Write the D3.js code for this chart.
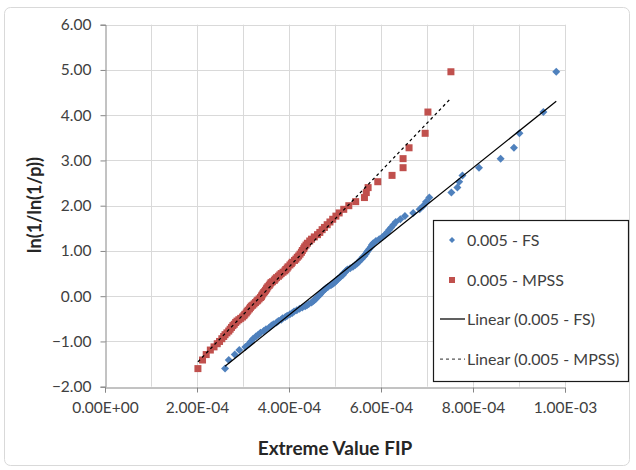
<!DOCTYPE html>
<html>
<head>
<meta charset="utf-8">
<script src="https://cdn.jsdelivr.net/npm/d3@7"></script>
<style>
  html, body { margin: 0; padding: 0; background: #fff; }
  svg { display: block; font-family: Lato, "Open Sans", sans-serif; }
</style>
</head>
<body>
<svg id="chart" width="636" height="470"></svg>
<script>
// ---- data (x values in units of 1E-04) ----
const yValues = [
  -1.60, -1.41, -1.29, -1.19, -1.12, -1.05, -1.00, -0.94, -0.89, -0.85,
  -0.81, -0.77, -0.73, -0.69, -0.65, -0.62, -0.58, -0.55, -0.52, -0.49,
  -0.46, -0.43, -0.40, -0.37, -0.34, -0.31, -0.28, -0.25, -0.22, -0.20,
  -0.17, -0.14, -0.11, -0.09, -0.06, -0.03, -0.01, 0.02, 0.05, 0.08,
  0.10, 0.13, 0.16, 0.18, 0.21, 0.24, 0.27, 0.30, 0.32, 0.35,
  0.38, 0.41, 0.44, 0.47, 0.50, 0.53, 0.56, 0.59, 0.62, 0.65,
  0.69, 0.72, 0.75, 0.79, 0.82, 0.86, 0.89, 0.93, 0.97, 1.01,
  1.05, 1.09, 1.13, 1.17, 1.22, 1.26, 1.31, 1.36, 1.41, 1.47,
  1.52, 1.58, 1.64, 1.70, 1.77, 1.84, 1.92, 2.00, 2.09, 2.18,
  2.29, 2.40, 2.53, 2.67, 2.84, 3.04, 3.28, 3.60, 4.07, 4.96
];
const fsE4 = [
  2.61, 2.69, 2.82, 2.92, 3.05, 3.13, 3.17, 3.22, 3.28, 3.33,
  3.38, 3.45, 3.50, 3.57, 3.62, 3.66, 3.73, 3.77, 3.83, 3.86,
  3.92, 3.96, 4.02, 4.07, 4.11, 4.17, 4.23, 4.29, 4.35, 4.39,
  4.43, 4.49, 4.52, 4.55, 4.58, 4.60, 4.62, 4.66, 4.68, 4.71,
  4.72, 4.75, 4.79, 4.81, 4.85, 4.91, 4.95, 4.98, 5.01, 5.04,
  5.06, 5.10, 5.13, 5.17, 5.18, 5.22, 5.24, 5.27, 5.33, 5.39,
  5.44, 5.48, 5.51, 5.54, 5.58, 5.60, 5.64, 5.67, 5.69, 5.72,
  5.75, 5.78, 5.80, 5.83, 5.89, 5.96, 6.03, 6.09, 6.13, 6.18,
  6.22, 6.27, 6.32, 6.42, 6.52, 6.70, 6.84, 6.92, 6.98, 7.05,
  7.53, 7.66, 7.70, 7.77, 8.13, 8.60, 8.89, 9.01, 9.53, 9.81
];
const mpssE4 = [
  2.02, 2.12, 2.20, 2.29, 2.37, 2.44, 2.49, 2.54, 2.58, 2.61,
  2.65, 2.69, 2.72, 2.75, 2.78, 2.81, 2.84, 2.87, 2.91, 2.95,
  2.99, 3.02, 3.04, 3.07, 3.09, 3.11, 3.14, 3.16, 3.18, 3.21,
  3.24, 3.27, 3.30, 3.32, 3.35, 3.38, 3.40, 3.41, 3.43, 3.45,
  3.47, 3.49, 3.51, 3.52, 3.54, 3.57, 3.59, 3.61, 3.64, 3.68,
  3.70, 3.73, 3.77, 3.80, 3.83, 3.87, 3.91, 3.93, 3.96, 3.98,
  4.02, 4.05, 4.07, 4.12, 4.15, 4.18, 4.21, 4.24, 4.27, 4.29,
  4.32, 4.34, 4.37, 4.40, 4.45, 4.49, 4.55, 4.62, 4.67, 4.72,
  4.77, 4.83, 4.89, 4.95, 5.02, 5.09, 5.19, 5.30, 5.45, 5.64,
  5.68, 5.72, 5.93, 6.24, 6.48, 6.48, 6.61, 6.96, 7.02, 7.52
];
const xTickValues = [0, 2e-4, 4e-4, 6e-4, 8e-4, 1e-3];
const xGridValues = [0, 1e-4, 2e-4, 3e-4, 4e-4, 5e-4, 6e-4, 7e-4, 8e-4, 9e-4, 1e-3];
const yTickValues = [-2, -1, 0, 1, 2, 3, 4, 5, 6];
const seriesNames = ["0.005 - FS", "0.005 - MPSS", "Linear (0.005 - FS)", "Linear (0.005 - MPSS)"];
const xTitle = "Extreme Value FIP";
const yTitle = "ln(1/ln(1/p))";

// ---- layout ----
const svg = d3.select("#chart");
const plot = { left: 105, right: 565, top: 24.7, bottom: 386.7 };
const x = d3.scaleLinear().domain([0, 1e-3]).range([plot.left, plot.right]);
const y = d3.scaleLinear().domain([-2, 6]).range([plot.bottom, plot.top]);

const blue = "#4f81bd", red = "#c0504d";
const axisColor = "#868686", gridColor = "#d9d9d9", textColor = "#404040";

// outer chart frame
svg.append("rect").attr("x", 4.5).attr("y", 7.5).attr("width", 625).attr("height", 458)
  .attr("rx", 6).attr("fill", "#fff").attr("stroke", "#d9d9d9").attr("stroke-width", 1);

// gridlines
svg.append("g").selectAll("line").data(yTickValues.filter(d => d !== -2)).join("line")
  .attr("x1", plot.left).attr("x2", plot.right)
  .attr("y1", d => Math.round(y(d)) + 0.5).attr("y2", d => Math.round(y(d)) + 0.5)
  .attr("stroke", gridColor);
svg.append("g").selectAll("line").data(xGridValues.filter(d => d !== 0)).join("line")
  .attr("y1", plot.top).attr("y2", plot.bottom)
  .attr("x1", d => Math.round(x(d)) + 0.5).attr("x2", d => Math.round(x(d)) + 0.5)
  .attr("stroke", gridColor);

// axes
const fmtX = v => {
  const s = v.toExponential(2).toUpperCase();
  const m = s.match(/^(-?[\d.]+)E([+-])(\d+)$/);
  return m[1] + "E" + m[2] + (m[3].length < 2 ? "0" + m[3] : m[3]);
};
const xAxis = svg.append("g").attr("transform", `translate(0,${Math.round(plot.bottom) + 0.5})`)
  .call(d3.axisBottom(x).tickValues(xTickValues).tickFormat(fmtX).tickSizeOuter(0).tickSize(5).tickPadding(9));
const yAxis = svg.append("g").attr("transform", `translate(${Math.round(plot.left) + 0.5},0)`)
  .call(d3.axisLeft(y).tickValues(yTickValues).tickFormat(d3.format(".2f")).tickSizeOuter(0).tickSize(5).tickPadding(9));
[xAxis, yAxis].forEach(g => {
  g.select(".domain").attr("stroke", axisColor);
  g.selectAll(".tick line").attr("stroke", axisColor);
  g.selectAll(".tick text").attr("fill", textColor).style("font-size", "15.5px").style("font-family", "Lato, sans-serif");
});

// axis titles
svg.append("text").attr("x", 335).attr("y", 455).attr("text-anchor", "middle")
  .style("font-size", "19px").style("font-weight", "bold").attr("fill", "#262626").text(xTitle);
svg.append("text").attr("transform", "translate(41,205) rotate(-90)").attr("text-anchor", "middle")
  .style("font-size", "18px").style("font-weight", "bold").attr("fill", "#262626").text(yTitle);

// trendlines (least squares, like the spreadsheet's linear trendline)
function fit(xs, ys) {
  const n = xs.length, mx = d3.mean(xs), my = d3.mean(ys);
  let sxy = 0, sxx = 0;
  for (let i = 0; i < n; i++) { sxy += (xs[i] - mx) * (ys[i] - my); sxx += (xs[i] - mx) ** 2; }
  const b = sxy / sxx, a = my - b * mx;
  const x0 = d3.min(xs), x1 = d3.max(xs);
  return [[x0, a + b * x0], [x1, a + b * x1]];
}
const fsX = fsE4.map(d => d * 1e-4), mpX = mpssE4.map(d => d * 1e-4);
const line = d3.line().x(d => x(d[0])).y(d => y(d[1]));

// markers
const diamond = r => `M0,${-r}L${r},0L0,${r}L${-r},0Z`;
svg.append("g").selectAll("path").data(fsX.map((v, i) => [v, yValues[i]])).join("path")
  .attr("transform", d => `translate(${x(d[0])},${y(d[1])})`)
  .attr("d", diamond(4)).attr("fill", blue);
svg.append("g").selectAll("rect").data(mpX.map((v, i) => [v, yValues[i]])).join("rect")
  .attr("x", d => x(d[0]) - 3.5).attr("y", d => y(d[1]) - 3.5)
  .attr("width", 7).attr("height", 7).attr("fill", red);

svg.append("path").attr("d", line(fit(fsX, yValues))).attr("fill", "none")
  .attr("stroke", "#000").attr("stroke-width", 1.25);
svg.append("path").attr("d", line(fit(mpX, yValues))).attr("fill", "none")
  .attr("stroke", "#000").attr("stroke-width", 1.25).attr("stroke-dasharray", "3,3");

// legend
const lg = svg.append("g");
lg.append("rect").attr("x", 433.5).attr("y", 220.5).attr("width", 195).attr("height", 161)
  .attr("fill", "#fff").attr("stroke", "#1a1a1a").attr("stroke-width", 1.2);
const rows = [240, 280, 319, 359];
lg.append("path").attr("transform", `translate(452,${rows[0]})`).attr("d", diamond(3)).attr("fill", blue);
lg.append("rect").attr("x", 449).attr("y", rows[1] - 3).attr("width", 6).attr("height", 6).attr("fill", red);
lg.append("line").attr("x1", 440).attr("x2", 465).attr("y1", rows[2]).attr("y2", rows[2])
  .attr("stroke", "#000").attr("stroke-width", 1.25);
lg.append("line").attr("x1", 440).attr("x2", 465).attr("y1", rows[3]).attr("y2", rows[3])
  .attr("stroke", "#555").attr("stroke-width", 1.25).attr("stroke-dasharray", "3,3");
lg.selectAll("text.lab").data(seriesNames).join("text").attr("class", "lab")
  .attr("x", 467).attr("y", (d, i) => rows[i]).attr("dy", "0.35em")
  .style("font-size", "16px").attr("fill", textColor).text(d => d);
</script>
</body>
</html>
